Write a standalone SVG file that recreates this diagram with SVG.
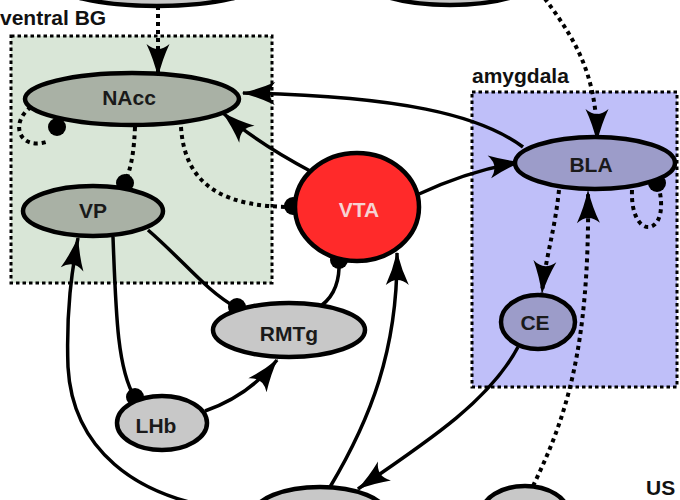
<svg xmlns="http://www.w3.org/2000/svg" width="680" height="500" viewBox="0 0 680 500">
<defs>
<style>
.lbl{font-family:"Liberation Sans",Arial,sans-serif;font-weight:bold;font-size:21px;fill:#1a1a1a;text-anchor:middle}
.title{font-family:"Liberation Sans",Arial,sans-serif;font-weight:bold;font-size:21px;fill:#111}
.node{stroke:#000;stroke-width:4.5}
.grey{fill:#c8c8c8}
.bg{fill:#a9b1a5}
.amy{fill:#9c9cc9}
.box{stroke:#000;stroke-width:3;stroke-dasharray:3.5 3}
.solid{fill:none;stroke:#000;stroke-width:3.5}
.dot{fill:none;stroke:#000;stroke-width:4;stroke-dasharray:4 4}
.arr{marker-end:url(#ah)}
</style>
<marker id="ah" markerUnits="userSpaceOnUse" orient="auto" viewBox="-34 -12 36 24" refX="0" refY="0" markerWidth="36" markerHeight="24">
<path d="M1.5,0 Q-16,-4 -32,-11.5 Q-22,0 -32,11.5 Q-16,4 1.5,0 Z" fill="#000"/>
</marker>
</defs>

<rect class="box" x="11" y="36" width="261" height="247" fill="#d9e6d7"/>
<rect class="box" x="472" y="92" width="205" height="295" fill="#bfbff9"/>
<text class="title" x="0" y="25">ventral BG</text>
<text class="title" x="472" y="83">amygdala</text>
<text class="title" x="646" y="495">US</text>

<g id="connectors">
<path class="dot arr" d="M158 6 L158 76"/>
<path class="dot arr" d="M540 -8 C572 35 597 70 597 141"/>
<path class="solid arr" d="M523 147 C480 115 400 96 243 93"/>
<path class="solid arr" d="M312 172 C282 156 250 137 223 113"/>
<path class="solid arr" d="M419 194 Q470 170 521 162"/>
<path class="dot" d="M31 107 C10 122 18 150 46 142"/>
<circle cx="57" cy="127" r="9"/>
<path class="dot" d="M135 127 C134 150 132 165 125 183"/>
<circle cx="125" cy="183" r="9"/>
<path class="dot" d="M181 127 C185 190 230 207 293 207"/>
<circle cx="293" cy="206" r="9"/>
<path class="solid" d="M148 230 C185 262 205 290 237 308"/>
<circle cx="237" cy="307" r="9"/>
<path class="solid" d="M113 237 C116 320 118 370 135 398"/>
<circle cx="135" cy="397" r="9"/>
<path class="solid arr" d="M205 411 Q250 395 277 360"/>
<path class="solid" d="M322 305 C335 295 340 280 339 260"/>
<circle cx="339" cy="260" r="9"/>
<path class="solid arr" d="M330 487 C370 420 398 350 397 253"/>
<path class="solid" d="M256 512 C125 505 72 440 68 367"/>
<path class="solid arr" d="M68 367 C66 310 72 270 78 238"/>
<path class="solid arr" d="M518 347 C490 400 430 440 358 489"/>
<path class="dot arr" d="M559 190 C555 230 545 260 542 293"/>
<path class="dot arr" d="M533 486 C565 420 590 350 588 191"/>
<path class="dot" d="M632 190 C630 240 668 238 660 193"/>
<circle cx="657" cy="183" r="9"/>
</g>

<g id="top-left"><ellipse class="node grey" cx="157" cy="-19" rx="105" ry="25"/></g>
<g id="top-right"><ellipse class="node grey" cx="450" cy="-20" rx="85" ry="25"/></g>
<g id="NAcc"><ellipse class="node bg" cx="132" cy="99" rx="107" ry="26"/><text class="lbl" x="129" y="105">NAcc</text></g>
<g id="VP"><ellipse class="node bg" cx="93" cy="211" rx="70" ry="25"/><text class="lbl" x="93" y="218">VP</text></g>
<g id="VTA"><ellipse class="node" cx="357" cy="207" rx="62" ry="54" fill="#ff2a2a"/><text class="lbl" x="359" y="217" style="fill:#f6d2d2">VTA</text></g>
<g id="BLA"><ellipse class="node amy" cx="595" cy="163" rx="80" ry="26"/><text class="lbl" x="591" y="172">BLA</text></g>
<g id="CE"><ellipse class="node amy" cx="538" cy="322" rx="37" ry="27"/><text class="lbl" x="535" y="330">CE</text></g>
<g id="RMTg"><ellipse class="node grey" cx="289" cy="330" rx="76" ry="27"/><text class="lbl" x="289" y="341">RMTg</text></g>
<g id="LHb"><ellipse class="node grey" cx="162" cy="423" rx="45" ry="27"/><text class="lbl" x="156" y="433">LHb</text></g>
<g id="bottom-left"><ellipse class="node grey" cx="320" cy="514" rx="66" ry="27"/></g>
<g id="bottom-right"><ellipse class="node grey" cx="525" cy="513" rx="43" ry="27"/></g>
</svg>
